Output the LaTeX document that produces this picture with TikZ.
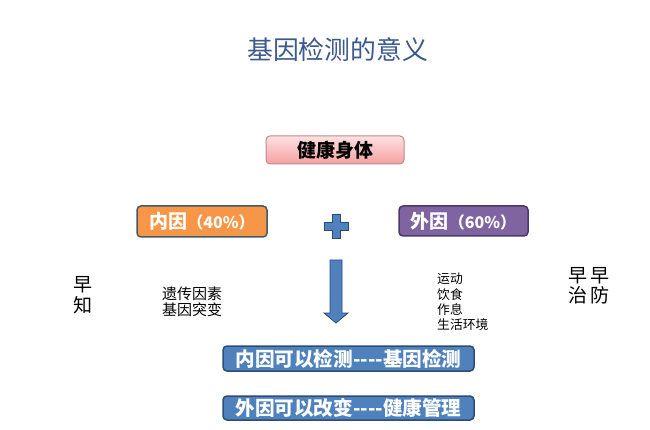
\documentclass[tikz,border=0pt]{standalone}
\usepackage{fontspec}
\setmainfont{Noto Sans CJK SC}
\newfontfamily\cjk{Noto Sans CJK SC}
\usetikzlibrary{shapes.geometric}
\definecolor{titleblue}{RGB}{59,89,140}
\definecolor{pinkt}{RGB}{253,225,225}
\definecolor{pinkb}{RGB}{244,160,160}
\definecolor{pinkd}{RGB}{190,140,140}
\definecolor{orangef}{RGB}{247,150,70}
\definecolor{oranged}{RGB}{62,92,110}
\definecolor{purplef}{RGB}{128,100,162}
\definecolor{purpled}{RGB}{75,58,102}
\definecolor{bluef}{RGB}{79,129,189}
\definecolor{blued}{RGB}{44,77,117}
\begin{document}
\begin{tikzpicture}[x=1pt,y=-1pt,
  box/.style={rounded corners=4pt, line width=1.5pt, inner sep=0pt, anchor=center},
  wtext/.style={text=white, font=\cjk\bfseries},
  plain/.style={inner sep=0pt, align=left, anchor=west},
  blueshape/.style={fill=bluef, draw=blued, line width=0.8pt}
]
\useasboundingbox[fill=white] (0,0) rectangle (650,430);
\node[inner sep=0pt, text=titleblue, font=\cjk\fontsize{25.8}{28}\selectfont] (title) at (337.5,50) {基因检测的意义};

\node[box, draw=pinkd, line width=1pt, top color=pinkt, bottom color=pinkb, minimum width=138pt, minimum height=28pt, font=\cjk\bfseries\fontsize{19}{22}\selectfont] (health) at (335,150) {健康身体};

\node[box, fill=orangef, draw=oranged, minimum width=130pt, minimum height=31pt, wtext, font=\cjk\bfseries\fontsize{19}{22}\selectfont] (inner) at (202,221.5) {内因\fontsize{16}{18}\selectfont（40\%）};
\node[box, fill=purplef, draw=purpled, minimum width=129pt, minimum height=30pt, wtext, font=\cjk\bfseries\fontsize{19}{22}\selectfont] (outer) at (463.5,221) {外因\fontsize{16}{18}\selectfont（60\%）};

\coordinate (pc) at (336,226);
\draw[blueshape] ([shift={(-4,-12)}]pc) -- ([shift={(4,-12)}]pc) -- ([shift={(4,-4)}]pc) -- ([shift={(12,-4)}]pc) -- ([shift={(12,4)}]pc) -- ([shift={(4,4)}]pc) -- ([shift={(4,12)}]pc) -- ([shift={(-4,12)}]pc) -- ([shift={(-4,4)}]pc) -- ([shift={(-12,4)}]pc) -- ([shift={(-12,-4)}]pc) -- ([shift={(-4,-4)}]pc) -- cycle;

\draw[blueshape] (330,260) -- (342,260) -- (342,313) -- (348,313) -- (336,323) -- (324,313) -- (330,313) -- cycle;

\node[inner sep=0pt, font=\cjk\fontsize{19}{22}\selectfont, align=center] (zaozhi) at (83,295) {早\\[-1pt]知};
\node[plain, font=\cjk\fontsize{15}{16}\selectfont] (gene) at (162,302) {遗传因素\\基因突变};
\node[plain, font=\cjk\fontsize{12.8}{15.3}\selectfont] (life) at (437,302) {运动\\饮食\\作息\\生活环境};
\node[inner sep=0pt, font=\cjk\fontsize{19}{20}\selectfont, align=left, anchor=west] (zaozhi2) at (568,286) {早\hspace{3pt}早\\治\hspace{3pt}防};

\node[box, fill=bluef, draw=blued, minimum width=251pt, minimum height=25pt, wtext, font=\cjk\bfseries\fontsize{19.6}{22}\selectfont] (test) at (348.5,358.5) {内因可以检测----基因检测};
\node[box, fill=bluef, draw=blued, minimum width=251pt, minimum height=24pt, wtext, font=\cjk\bfseries\fontsize{19.6}{22}\selectfont] (manage) at (348.5,408) {外因可以改变----健康管理};
\end{tikzpicture}
\end{document}
